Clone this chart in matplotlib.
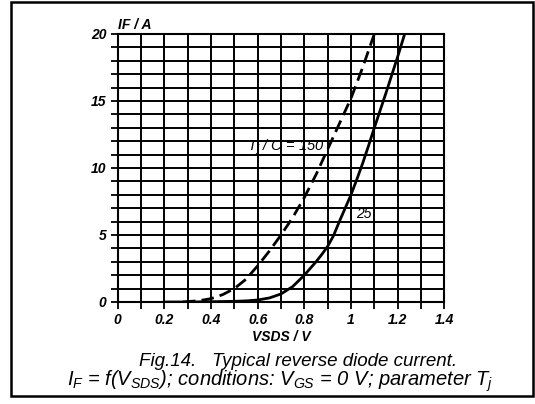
import numpy as np
import matplotlib
matplotlib.use('Agg')
from matplotlib import pyplot as plt
from matplotlib.patches import Rectangle

plt.rcParams['font.family'] = ['Liberation Sans', 'DejaVu Sans']
plt.rcParams['mathtext.fontset'] = 'custom'
plt.rcParams['mathtext.it'] = 'Liberation Sans:italic'
plt.rcParams['mathtext.rm'] = 'Liberation Sans:italic'

# curve: Tj = 25 C (solid)
v_25 = [0.2, 0.3, 0.4, 0.5, 0.55, 0.6, 0.65, 0.7, 0.75, 0.8, 0.85, 0.875, 0.9, 0.925, 0.95,
        0.975, 1.0, 1.025, 1.05, 1.075, 1.1, 1.15, 1.2, 1.23]
i_25 = [0.0, 0.0, 0.02, 0.05, 0.08, 0.15, 0.3, 0.6, 1.15, 2.0, 3.0, 3.55, 4.15, 4.95, 6.0,
        7.0, 8.0, 9.15, 10.35, 11.65, 13.0, 15.6, 18.3, 20.0]

# Tj = 150 C (dashed)
v_150 = [0.28, 0.3, 0.35, 0.4, 0.45, 0.5, 0.55, 0.6, 0.65, 0.7, 0.75, 0.8, 0.85, 0.9, 0.95, 1.0, 1.05, 1.1]
i_150 = [0.0, 0.03, 0.1, 0.25, 0.55, 1.0, 1.7, 2.7, 3.8, 5.0, 6.3, 7.8, 9.5, 11.4, 13.3, 15.2, 17.5, 20.0]

x_ticks = [0, 0.2, 0.4, 0.6, 0.8, 1.0, 1.2, 1.4]
x_labels = ["0", "0.2", "0.4", "0.6", "0.8", "1", "1.2", "1.4"]
y_ticks = [0, 5, 10, 15, 20]

fig = plt.figure(figsize=(5.35, 4.04), dpi=100)
ax = fig.add_axes([0.22, 0.2525, 0.6105, 0.6634])

ax.set_xlim(0, 1.4)
ax.set_ylim(0, 20)
ax.set_xticks(np.arange(0, 1.41, 0.1), minor=True)
ax.set_yticks(np.arange(0, 21, 1), minor=True)
ax.set_xticks(x_ticks)
ax.set_xticklabels(x_labels)
ax.set_yticks(y_ticks)
ax.grid(which='both', color='black', linewidth=1.4)
ax.tick_params(which='both', direction='out', length=5, width=1.3, color='black')
ax.tick_params(which='major', labelsize=10, pad=3)
for lab in ax.get_xticklabels() + ax.get_yticklabels():
    lab.set_fontstyle('italic')
    lab.set_fontweight('bold')
for s in ax.spines.values():
    s.set_linewidth(1.5)

ax.plot(v_25, i_25, color='black', linewidth=2.0)
ax.plot(v_150, i_150, color='black', linewidth=2.0, dashes=(4.5, 2.2))

ax.text(0.555, 11.55, "T$_j$ / C = 150", fontsize=10.5, fontstyle='italic', va='center')
ax.text(1.02, 6.6, "25", fontsize=10, fontstyle='italic', va='center')

ax.text(0.0, 20.35, "IF / A", fontsize=10, fontstyle='italic', fontweight='bold', va='baseline')
ax.set_xlabel("VSDS / V", fontsize=10, fontstyle='italic', fontweight='bold', labelpad=2)

fig.text(457 / 535, 1 - 366 / 404, "Fig.14.   Typical reverse diode current.",
         fontsize=13.5, fontstyle='italic', va='baseline', ha='right')
fig.text(280 / 535, 1 - 386 / 404,
         "$I_F$ = f($V_{SDS}$); conditions: $V_{GS}$ = 0 V; parameter $T_j$",
         fontsize=14.5, fontstyle='italic', va='baseline', ha='center')

fig.patches.append(Rectangle((11 / 535, 1 - 396 / 404), 522 / 535, 394 / 404,
                             transform=fig.transFigure, fill=False,
                             edgecolor='black', linewidth=1.8))

fig.savefig("out.png", dpi=100)
